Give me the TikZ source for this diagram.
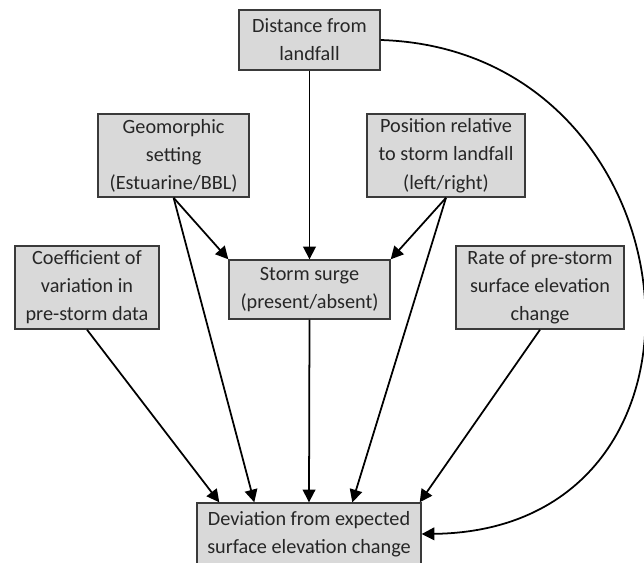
\documentclass[tikz,border=0pt]{standalone}
\usepackage{fontspec}
\setmainfont{Carlito}
\usepackage{tikz}
\usetikzlibrary{arrows.meta,positioning}
\tikzset{>={Triangle[length=9pt,width=9pt]}}
\definecolor{boxfill}{HTML}{D9D9D9}
\definecolor{boxline}{HTML}{3A3A3A}
\tikzset{
  box/.style={draw=boxline,fill=boxfill,line width=1pt,align=center,
    inner sep=1pt,text=black!85,font=\fontsize{14.4}{20}\selectfont},
  link/.style={->,line width=1.25pt}
}

\begin{document}
\begin{tikzpicture}
\useasboundingbox (0,0) rectangle (16.1,-14.05);
\node[box,minimum width=3.525cm,minimum height=1.5cm] (dist) at (7.7375,-1.0) {Distance from\\landfall};
\node[box,minimum width=3.775cm,minimum height=2.075cm] (geo) at (4.34,-3.89) {Geomorphic\\setting\\(Estuarine/BBL)};
\node[box,minimum width=3.95cm,minimum height=2.075cm] (pos) at (11.15,-3.89) {Position relative\\to storm landfall\\(left/right)};
\node[box,minimum width=3.6cm,minimum height=2.075cm] (coef) at (2.175,-7.1875) {Coefficient of\\variation in\\pre-storm data};
\node[box,minimum width=4.025cm,minimum height=1.475cm] (surge) at (7.7375,-7.2375) {Storm surge\\(present/absent)};
\node[box,minimum width=4.2cm,minimum height=2.075cm] (rate) at (13.5,-7.1875) {Rate of pre-storm\\surface elevation\\change};
\node[box,minimum width=5.6cm,minimum height=1.55cm] (dev) at (7.725,-13.35) {Deviation from expected\\surface elevation change};

% into storm surge
\draw[link] (dist.south) -- (surge.north);
\draw[link] (geo.south) -- (surge.north west);
\draw[link] (pos.south) -- (surge.north east);
% into deviation
\draw[link] (coef.south) -- ([xshift=0.575cm]dev.north west);
\draw[link] (geo.south) -- ([xshift=1.45cm]dev.north west);
\draw[link] (surge.south) -- (dev.north);
\draw[link] (pos.south) -- ([xshift=3.9cm]dev.north west);
\draw[link] (rate.south) -- ([xshift=-0.05cm]dev.north east);
\draw[link] (dist.east) .. controls (17.5,-1.25) and (18.65,-13.25) .. (dev.east);
\end{tikzpicture}
\end{document}
